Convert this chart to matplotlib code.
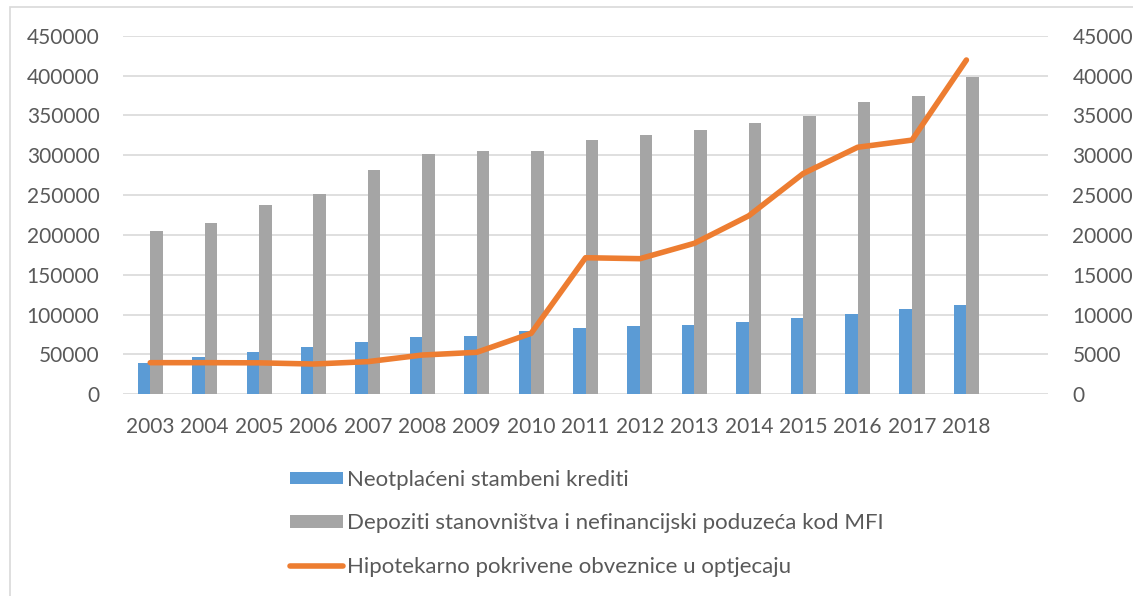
import numpy as np
import matplotlib
matplotlib.use("Agg")
import matplotlib.pyplot as plt
from matplotlib.patches import Rectangle

# Data
years = ["2003", "2004", "2005", "2006", "2007", "2008", "2009", "2010",
         "2011", "2012", "2013", "2014", "2015", "2016", "2017", "2018"]
krediti = [39000, 47000, 53000, 59700, 65300, 71300, 73000, 79400,
           83200, 85700, 87000, 90300, 96100, 100800, 106600, 112000]
depoziti = [205300, 215300, 237200, 251000, 281500, 301500, 304900, 305700,
            318700, 325000, 331300, 340800, 348800, 366400, 374700, 398500]
obveznice = [3970, 3970, 3950, 3800, 4100, 4930, 5270, 7650,
             17140, 17020, 18950, 22400, 27700, 31000, 31900, 41950]

left_ticks = [0, 50000, 100000, 150000, 200000, 250000, 300000, 350000, 400000, 450000]
right_ticks = [0, 5000, 10000, 15000, 20000, 25000, 30000, 35000, 40000, 45000]

names = ["Neotplaćeni stambeni krediti",
         "Depoziti stanovništva i nefinancijski poduzeća kod MFI",
         "Hipotekarno pokrivene obveznice u optjecaju"]

BLUE = "#5B9BD5"
GRAY = "#A5A5A5"
ORANGE = "#ED7D31"
TXT = "#595959"
GRID = "#D9D9D9"

plt.rcParams["font.family"] = ["Lato", "DejaVu Sans"]

fig = plt.figure(figsize=(11.33, 5.96), dpi=100)
ax = fig.add_axes([0.1086, 0.3384, 0.8164, 0.6017])
ax2 = ax.twinx()

x = np.arange(len(years))
w = 0.23
b1 = ax.bar(x - w / 2, krediti, w, color=BLUE, zorder=2)
b2 = ax.bar(x + w / 2, depoziti, w, color=GRAY, zorder=2)
l1, = ax2.plot(x, obveznice, color=ORANGE, lw=4, solid_capstyle="round",
               solid_joinstyle="round", zorder=3)

# an empty 17th category slot on the right, as in the original
ax.set_xlim(-0.5, len(years) + 0.5)
ax.set_ylim(0, 450000)
ax2.set_ylim(0, 45000)
ax.set_yticks(left_ticks)
ax.set_yticklabels([str(v) for v in left_ticks])
ax2.set_yticks(right_ticks)
ax2.set_yticklabels([str(v) for v in right_ticks])
ax.set_xticks(x)
ax.set_xticklabels(years)

ax.grid(axis="y", color=GRID, lw=1.2, zorder=0)
ax.set_axisbelow(True)
for a in (ax, ax2):
    for s in a.spines.values():
        s.set_visible(False)
    a.tick_params(length=0, colors=TXT, labelsize=15)
ax.tick_params(axis="y", pad=17)
ax2.tick_params(axis="y", pad=17.5)
ax.tick_params(axis="x", pad=16)

ax2.set_zorder(ax.get_zorder() + 1)
ax2.patch.set_visible(False)

leg = fig.legend([b1, b2, l1], names, loc="upper left",
                 bbox_to_anchor=(0.238, 0.245), frameon=False,
                 labelspacing=1.05, handlelength=2.4, handleheight=0.5,
                 handletextpad=0.2, fontsize=16)
for t in leg.get_texts():
    t.set_color(TXT)

# chart frame
fig.patches.append(Rectangle((0.009, -0.1), 1.2, 1.089, transform=fig.transFigure,
                             fill=False, edgecolor="#D9D9D9", lw=1.2))

fig.savefig("out.png", dpi=100)
